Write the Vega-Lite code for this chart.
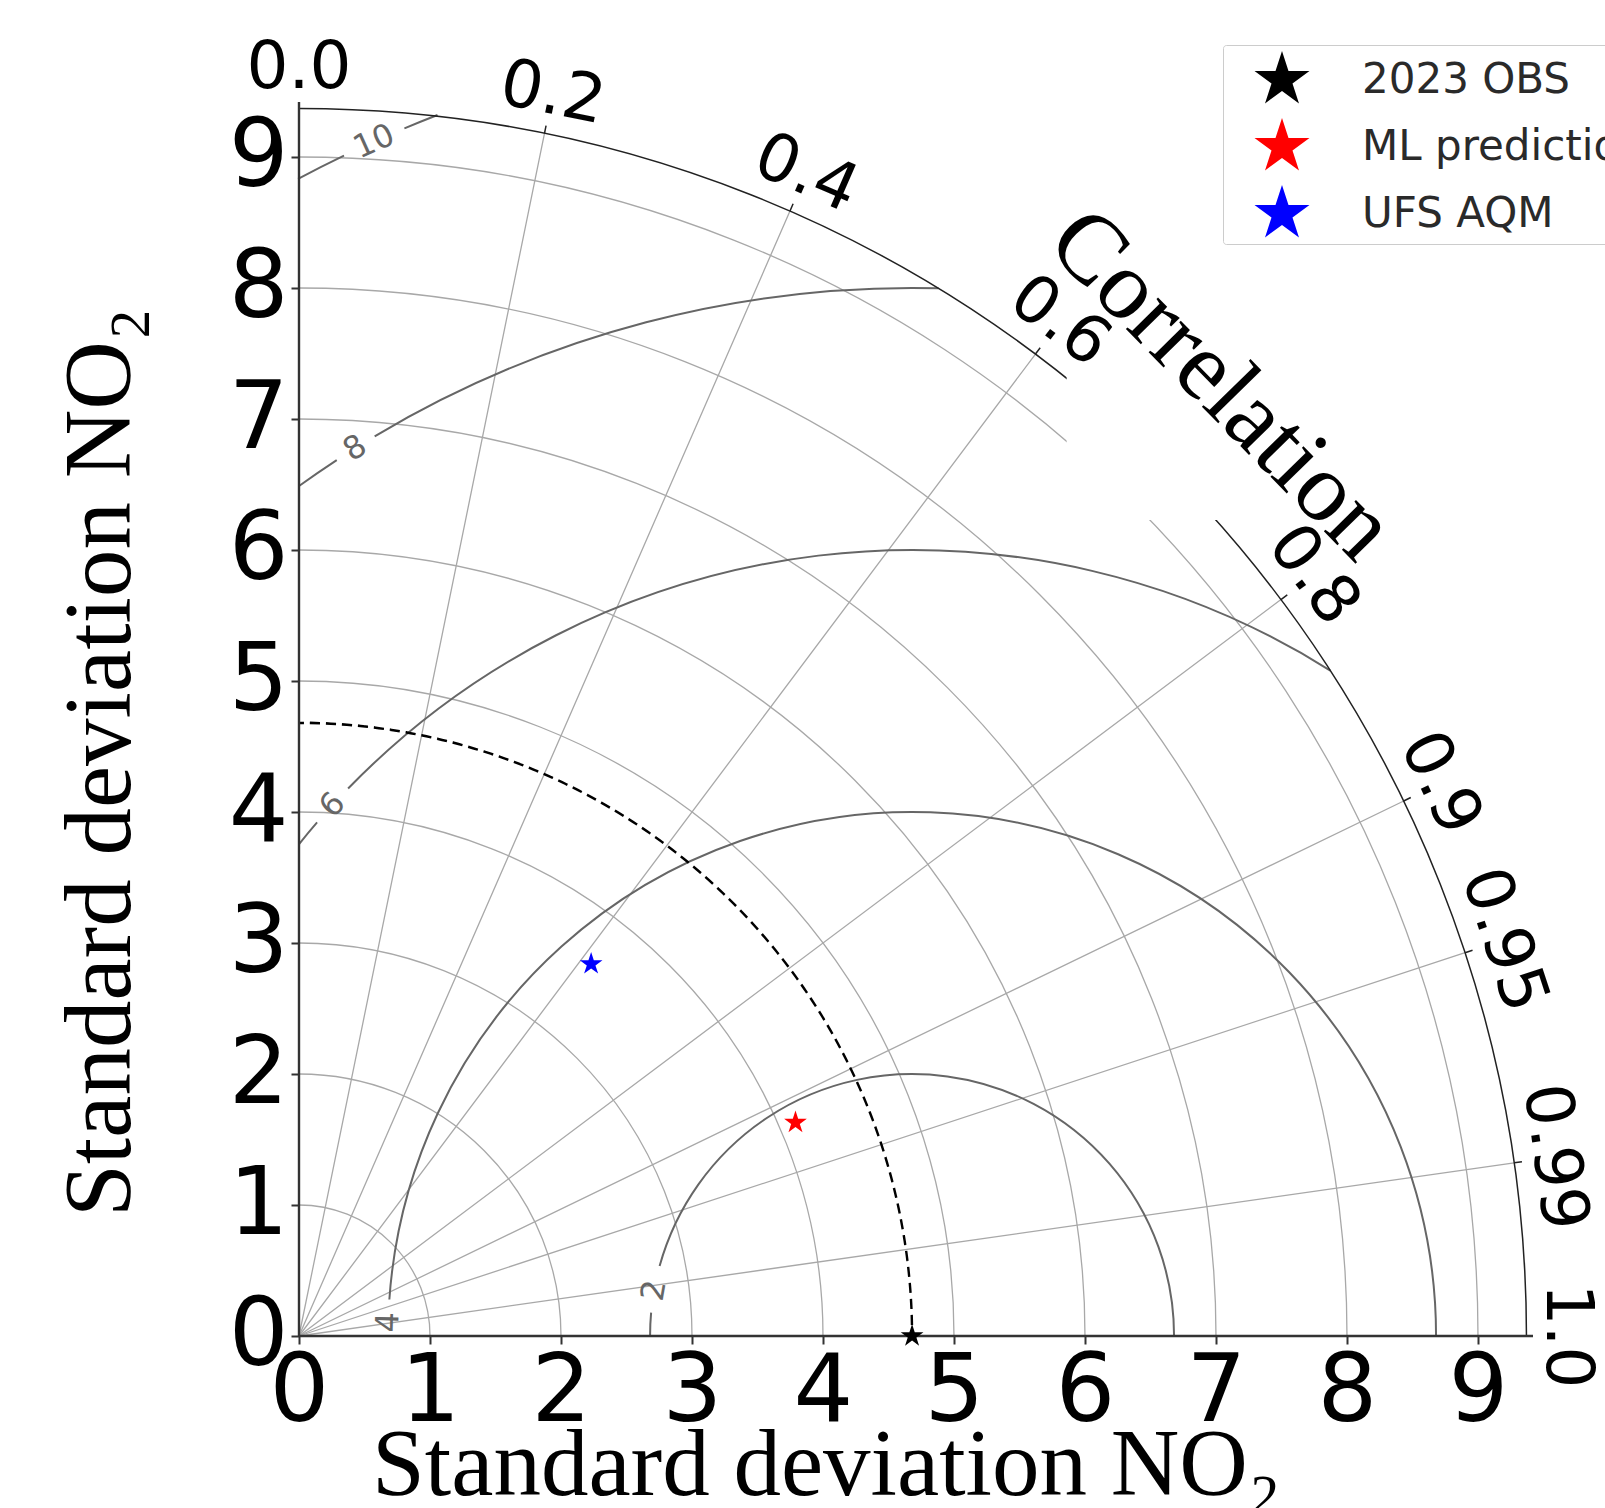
{
  "$schema": "https://vega.github.io/schema/vega-lite/v6.json",
  "width": 1234,
  "height": 1234,
  "autosize": {"type": "none"},
  "padding": {"left": 299, "top": 102, "right": 72, "bottom": 172},
  "background": "white",
  "config": {"view": {"stroke": null}},
  "datasets": {
    "std": [
      {"x": 0, "y": 0, "r": 1, "r2": 1, "t": 0, "t2": 90},
      {"x": 0, "y": 0, "r": 2, "r2": 2, "t": 0, "t2": 90},
      {"x": 0, "y": 0, "r": 3, "r2": 3, "t": 0, "t2": 90},
      {"x": 0, "y": 0, "r": 4, "r2": 4, "t": 0, "t2": 90},
      {"x": 0, "y": 0, "r": 5, "r2": 5, "t": 0, "t2": 90},
      {"x": 0, "y": 0, "r": 6, "r2": 6, "t": 0, "t2": 90},
      {"x": 0, "y": 0, "r": 7, "r2": 7, "t": 0, "t2": 90},
      {"x": 0, "y": 0, "r": 8, "r2": 8, "t": 0, "t2": 90},
      {"x": 0, "y": 0, "r": 9, "r2": 9, "t": 0, "t2": 90}
    ],
    "corr": [
      {"x": 0, "y": 0, "r": 9.37, "r2": 0, "t": 11.537, "t2": 11.537},
      {"x": 0, "y": 0, "r": 9.37, "r2": 0, "t": 23.578, "t2": 23.578},
      {"x": 0, "y": 0, "r": 9.37, "r2": 0, "t": 36.87, "t2": 36.87},
      {"x": 0, "y": 0, "r": 9.37, "r2": 0, "t": 53.13, "t2": 53.13},
      {"x": 0, "y": 0, "r": 9.37, "r2": 0, "t": 64.158, "t2": 64.158},
      {"x": 0, "y": 0, "r": 9.37, "r2": 0, "t": 71.805, "t2": 71.805},
      {"x": 0, "y": 0, "r": 9.37, "r2": 0, "t": 81.89, "t2": 81.89}
    ],
    "ticks": [
      {"x": 0, "y": 0, "r": 9.43, "r2": 9.37, "t": 11.537, "t2": 11.537},
      {"x": 0, "y": 0, "r": 9.43, "r2": 9.37, "t": 23.578, "t2": 23.578},
      {"x": 0, "y": 0, "r": 9.43, "r2": 9.37, "t": 36.87, "t2": 36.87},
      {"x": 0, "y": 0, "r": 9.43, "r2": 9.37, "t": 53.13, "t2": 53.13},
      {"x": 0, "y": 0, "r": 9.43, "r2": 9.37, "t": 64.158, "t2": 64.158},
      {"x": 0, "y": 0, "r": 9.43, "r2": 9.37, "t": 71.805, "t2": 71.805},
      {"x": 0, "y": 0, "r": 9.43, "r2": 9.37, "t": 81.89, "t2": 81.89}
    ],
    "rms": [
      {"x": 4.68, "y": 0, "r": 2, "r2": 2, "t": -74.5, "t2": 90},
      {"x": 4.68, "y": 0, "r": 2, "r2": 2, "t": -90, "t2": -84.9},
      {"x": 4.68, "y": 0, "r": 4, "r2": 4, "t": -86, "t2": 90},
      {"x": 4.68, "y": 0, "r": 6, "r2": 6, "t": -45.85, "t2": 32.15},
      {"x": 4.68, "y": 0, "r": 6, "r2": 6, "t": -51.25, "t2": -49.2},
      {"x": 4.68, "y": 0, "r": 8, "r2": 8, "t": -30.85, "t2": 1.45},
      {"x": 4.68, "y": 0, "r": 8, "r2": 8, "t": -35.8, "t2": -33.3},
      {"x": 4.68, "y": 0, "r": 10, "r2": 10, "t": -22.8, "t2": -21.24},
      {"x": 4.68, "y": 0, "r": 10, "r2": 10, "t": -27.95, "t2": -25.7}
    ],
    "outer": [{"x": 0, "y": 0, "r": 9.37, "r2": 9.37, "t": 0, "t2": 90}],
    "ref": [{"x": 0, "y": 0, "r": 4.68, "r2": 4.68, "t": 0, "t2": 90}],
    "axes": [
      {"x": 0, "y": 0, "x2": 0, "y2": 9.42},
      {"x": 0, "y": 0, "x2": 9.42, "y2": 0}
    ],
    "mask": [{"x": 5.86, "y": 6.23, "x2": 7.01, "y2": 7.45}],
    "rmslab": [
      {"x": 4.68, "y": 0, "r": 2, "t": -80, "label": "2"},
      {"x": 4.68, "y": 0, "r": 4, "t": -88.5, "label": "4"},
      {"x": 4.68, "y": 0, "r": 6, "t": -47.5, "label": "6"},
      {"x": 4.68, "y": 0, "r": 8, "t": -32.1, "label": "8"},
      {"x": 4.68, "y": 0, "r": 10, "t": -24.25, "label": "10"}
    ],
    "corrlab": [
      {"x": 0, "y": 0, "r": 9.68, "t": 0, "label": "0.0"},
      {"x": 0, "y": 0, "r": 9.68, "t": 11.537, "label": "0.2"},
      {"x": 0, "y": 0, "r": 9.68, "t": 23.578, "label": "0.4"},
      {"x": 0, "y": 0, "r": 9.68, "t": 36.87, "label": "0.6"},
      {"x": 0, "y": 0, "r": 9.68, "t": 53.13, "label": "0.8"},
      {"x": 0, "y": 0, "r": 9.68, "t": 64.158, "label": "0.9"},
      {"x": 0, "y": 0, "r": 9.68, "t": 71.805, "label": "0.95"},
      {"x": 0, "y": 0, "r": 9.68, "t": 81.89, "label": "0.99"},
      {"x": 0, "y": 0, "r": 9.68, "t": 90, "label": "1.0"}
    ],
    "corrtitle": [{"x": 7.04, "y": 7.26, "label": "Correlation"}],
    "models": [
      {"name": "2023 OBS", "x": 4.68, "y": 0},
      {"name": "ML predictions", "x": 3.79, "y": 1.63},
      {"name": "UFS AQM", "x": 2.23, "y": 2.84}
    ]
  },
  "encoding": {
    "x": {
      "field": "x", "type": "quantitative",
      "scale": {"domain": [0, 9.42], "nice": false, "zero": true},
      "axis": {
        "values": [0, 1, 2, 3, 4, 5, 6, 7, 8, 9], "format": "d",
        "domain": false, "grid": false,
        "tickSize": 8, "tickWidth": 2, "tickColor": "#333333",
        "labelFont": "DejaVu Sans", "labelFontSize": 94, "labelColor": "#000000",
        "labelPadding": 2, "labelFlush": false, "labelOverlap": false,
        "title": "Standard deviation NO₂",
        "titleFont": "Liberation Serif", "titleFontSize": 95, "titleFontWeight": "normal",
        "titleColor": "#000000", "titleX": 527, "titleY": 158,
        "titleBaseline": "alphabetic", "titleAlign": "center"
      }
    },
    "y": {
      "field": "y", "type": "quantitative",
      "scale": {"domain": [0, 9.42], "nice": false, "zero": true},
      "axis": {
        "values": [0, 1, 2, 3, 4, 5, 6, 7, 8, 9], "format": "d",
        "domain": false, "grid": false,
        "tickSize": 8, "tickWidth": 2, "tickColor": "#333333",
        "labelFont": "DejaVu Sans", "labelFontSize": 94, "labelColor": "#000000",
        "labelPadding": 3, "labelFlush": false, "labelOverlap": false,
        "title": "Standard deviation NO₂",
        "titleFont": "Liberation Serif", "titleFontSize": 95, "titleFontWeight": "normal",
        "titleColor": "#000000", "titleAngle": 270, "titleX": -170, "titleY": 660,
        "titleBaseline": "alphabetic", "titleAlign": "center"
      }
    }
  },
  "layer": [
    {
      "data": {"name": "std"},
      "mark": {"type": "arc", "filled": false, "stroke": "#a8a8a8", "strokeWidth": 1.3},
      "encoding": {
        "theta": {"field": "t", "type": "quantitative", "stack": null, "scale": {"type": "linear", "domain": [0, 360], "range": [0, 6.283185307179586], "zero": false, "nice": false}},
        "theta2": {"field": "t2"},
        "radius": {"field": "r", "type": "quantitative", "scale": {"type": "linear", "domain": [0, 9.42], "range": [0, 1234], "zero": true, "nice": false}},
        "radius2": {"field": "r2"}
      }
    },
    {
      "data": {"name": "corr"},
      "mark": {"type": "arc", "filled": false, "stroke": "#a8a8a8", "strokeWidth": 1.3},
      "encoding": {
        "theta": {"field": "t", "type": "quantitative", "stack": null, "scale": {"type": "linear", "domain": [0, 360], "range": [0, 6.283185307179586], "zero": false, "nice": false}},
        "theta2": {"field": "t2"},
        "radius": {"field": "r", "type": "quantitative", "scale": {"type": "linear", "domain": [0, 9.42], "range": [0, 1234], "zero": true, "nice": false}},
        "radius2": {"field": "r2"}
      }
    },
    {
      "data": {"name": "rms"},
      "mark": {"type": "arc", "filled": false, "stroke": "#666666", "strokeWidth": 2},
      "encoding": {
        "theta": {"field": "t", "type": "quantitative", "stack": null, "scale": {"type": "linear", "domain": [0, 360], "range": [0, 6.283185307179586], "zero": false, "nice": false}},
        "theta2": {"field": "t2"},
        "radius": {"field": "r", "type": "quantitative", "scale": {"type": "linear", "domain": [0, 9.42], "range": [0, 1234], "zero": true, "nice": false}},
        "radius2": {"field": "r2"}
      }
    },
    {
      "data": {"name": "outer"},
      "mark": {"type": "arc", "filled": false, "stroke": "#222222", "strokeWidth": 1.5},
      "encoding": {
        "theta": {"field": "t", "type": "quantitative", "stack": null, "scale": {"type": "linear", "domain": [0, 360], "range": [0, 6.283185307179586], "zero": false, "nice": false}},
        "theta2": {"field": "t2"},
        "radius": {"field": "r", "type": "quantitative", "scale": {"type": "linear", "domain": [0, 9.42], "range": [0, 1234], "zero": true, "nice": false}},
        "radius2": {"field": "r2"}
      }
    },
    {
      "data": {"name": "ticks"},
      "mark": {"type": "arc", "filled": false, "stroke": "#222222", "strokeWidth": 1.5},
      "encoding": {
        "theta": {"field": "t", "type": "quantitative", "stack": null, "scale": {"type": "linear", "domain": [0, 360], "range": [0, 6.283185307179586], "zero": false, "nice": false}},
        "theta2": {"field": "t2"},
        "radius": {"field": "r", "type": "quantitative", "scale": {"type": "linear", "domain": [0, 9.42], "range": [0, 1234], "zero": true, "nice": false}},
        "radius2": {"field": "r2"}
      }
    },
    {
      "data": {"name": "ref"},
      "mark": {"type": "arc", "filled": false, "stroke": "#000000", "strokeWidth": 2.4, "strokeDash": [10, 6.05], "strokeDashOffset": 5},
      "encoding": {
        "theta": {"field": "t", "type": "quantitative", "stack": null, "scale": {"type": "linear", "domain": [0, 360], "range": [0, 6.283185307179586], "zero": false, "nice": false}},
        "theta2": {"field": "t2"},
        "radius": {"field": "r", "type": "quantitative", "scale": {"type": "linear", "domain": [0, 9.42], "range": [0, 1234], "zero": true, "nice": false}},
        "radius2": {"field": "r2"}
      }
    },
    {
      "data": {"name": "axes"},
      "mark": {"type": "rule", "stroke": "#333333", "strokeWidth": 2.4},
      "encoding": {
        "x2": {"field": "x2"},
        "y2": {"field": "y2"}
      }
    },
    {
      "data": {"name": "mask"},
      "mark": {"type": "rect", "fill": "#ffffff", "stroke": null},
      "encoding": {
        "x2": {"field": "x2"},
        "y2": {"field": "y2"}
      }
    },
    {
      "data": {"name": "rmslab"},
      "mark": {"type": "text", "font": "DejaVu Sans", "fontSize": 32, "fill": "#666666", "align": "center", "baseline": "middle"},
      "encoding": {
        "text": {"field": "label"},
        "theta": {"field": "t", "type": "quantitative", "stack": null, "scale": {"type": "linear", "domain": [0, 360], "range": [0, 6.283185307179586], "zero": false, "nice": false}},
        "radius": {"field": "r", "type": "quantitative", "scale": {"type": "linear", "domain": [0, 9.42], "range": [0, 1234], "zero": true, "nice": false}},
        "angle": {"field": "t", "type": "quantitative", "scale": null}
      }
    },
    {
      "data": {"name": "corrlab"},
      "mark": {"type": "text", "font": "DejaVu Sans", "fontSize": 66, "fill": "#000000", "align": "center", "baseline": "middle"},
      "encoding": {
        "text": {"field": "label"},
        "theta": {"field": "t", "type": "quantitative", "stack": null, "scale": {"type": "linear", "domain": [0, 360], "range": [0, 6.283185307179586], "zero": false, "nice": false}},
        "radius": {"field": "r", "type": "quantitative", "scale": {"type": "linear", "domain": [0, 9.42], "range": [0, 1234], "zero": true, "nice": false}},
        "angle": {"field": "t", "type": "quantitative", "scale": null}
      }
    },
    {
      "data": {"name": "corrtitle"},
      "mark": {"type": "text", "font": "Liberation Serif", "fontSize": 98, "fill": "#000000", "align": "center", "baseline": "middle", "angle": 45.6},
      "encoding": {
        "text": {"field": "label"}
      }
    },
    {
      "data": {"name": "models"},
      "mark": {
        "type": "point", "filled": true, "opacity": 1, "size": 570, "strokeWidth": 0,
        "shape": "M0,-1L0.2245,-0.309L0.9511,-0.309L0.3633,0.118L0.5878,0.809L0,0.382L-0.5878,0.809L-0.3633,0.118L-0.9511,-0.309L-0.2245,-0.309Z"
      },
      "encoding": {
        "color": {
          "field": "name", "type": "nominal",
          "scale": {"domain": ["2023 OBS", "ML predictions", "UFS AQM"], "range": ["#000000", "#ff0000", "#0000ff"]},
          "legend": {
            "title": null, "orient": "none", "legendX": 924, "legendY": -57,
            "symbolType": "M0,-1L0.2245,-0.309L0.9511,-0.309L0.3633,0.118L0.5878,0.809L0,0.382L-0.5878,0.809L-0.3633,0.118L-0.9511,-0.309L-0.2245,-0.309Z",
            "symbolSize": 3340, "symbolStrokeWidth": 0, "symbolOpacity": 1,
            "labelFont": "DejaVu Sans", "labelFontSize": 42, "labelColor": "#2a2a2a",
            "labelLimit": 600, "labelOffset": 51,
            "padding": 6, "rowPadding": 14, "symbolOffset": 24,
            "fillColor": "#ffffff", "strokeColor": "#cccccc", "cornerRadius": 3
          }
        }
      }
    }
  ]
}
